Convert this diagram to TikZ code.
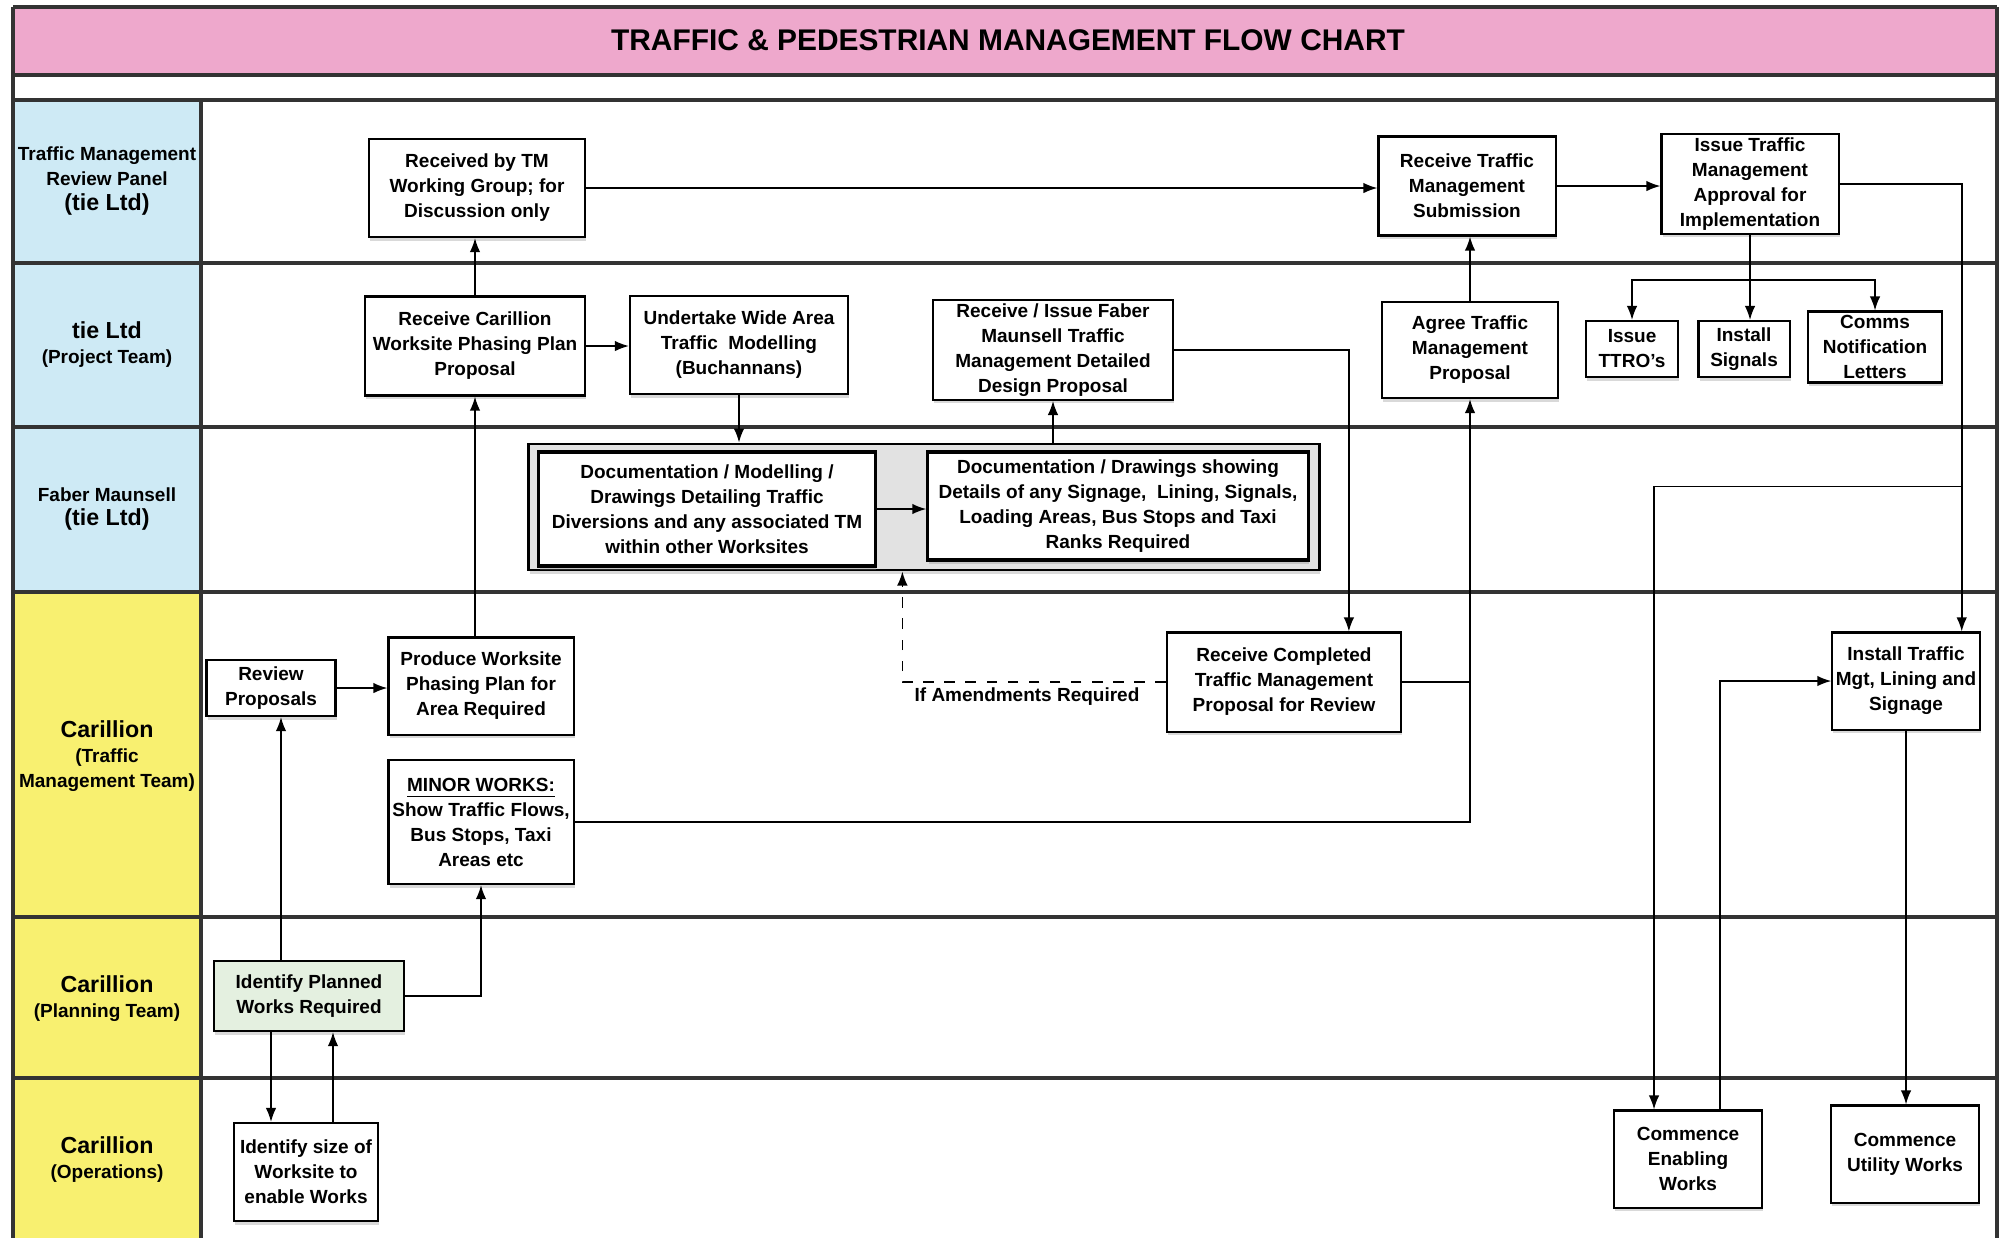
\documentclass[tikz,border=0pt]{standalone}
\usepackage{fontspec}
\setmainfont{Liberation Sans}
\usetikzlibrary{calc, arrows.meta, shadows}

\definecolor{titlepink}{RGB}{238,168,204}
\definecolor{laneblue}{RGB}{206,234,245}
\definecolor{laneyellow}{RGB}{248,240,112}
\definecolor{plangreen}{RGB}{228,240,224}
\definecolor{framegrey}{RGB}{226,226,226}

\newcommand{\boxfont}{\bfseries\fontsize{5.4}{7.1}\selectfont}
\newcommand{\bigfont}{\bfseries\fontsize{6.6}{8}\selectfont}

\begin{document}
\begin{tikzpicture}[x=0.01cm, y=-0.01cm,
        box/.style={draw, fill=white, line width=0.6pt, align=center, inner sep=1pt, font=\boxfont,
            drop shadow={shadow xshift=0.3pt, shadow yshift=-1pt, opacity=0.3}},
        lanehead/.style={align=center, font=\boxfont},
        laneline/.style={line width=1.3pt, draw=black!80},
        flow/.style={line width=0.45pt, arrows={-Latex[length=4pt, width=3pt]}}]
        \useasboundingbox (0, 0) rectangle (2010, 1238);
        \fill [titlepink] (13, 7) rectangle (1997, 75);
        \fill [laneblue] (13, 100) rectangle (201, 592);
        \fill [laneyellow] (13, 592) rectangle (201, 1238);
        \foreach \y in {7, 75, 100, 263, 427, 592, 917, 1078}
            \draw [laneline] (13, \y) -- (1997, \y);
        \draw [laneline] (13, 7) -- (13, 1238);
        \draw [laneline] (1997, 7) -- (1997, 1238);
        \draw [laneline] (201, 100) -- (201, 1238);
        \node [font=\bfseries\fontsize{8.5}{10}\selectfont] (title) at (1008, 40) {TRAFFIC \& PEDESTRIAN MANAGEMENT FLOW CHART};

        \node [lanehead] (tmpanel) at (107, 181) {Traffic Management\\Review Panel\\{\bigfont (tie Ltd)}};
        \node [lanehead] (tieteam) at (107, 345) {{\bigfont tie Ltd}\\(Project Team)};
        \node [lanehead] (faber) at (107, 509) {Faber Maunsell\\{\bigfont (tie Ltd)}};
        \node [lanehead] (tmteam) at (107, 756) {{\bigfont Carillion}\\(Traffic\\Management Team)};
        \node [lanehead] (planteam) at (107, 999) {{\bigfont Carillion}\\(Planning Team)};
        \node [lanehead] (operations) at (107, 1160) {{\bigfont Carillion}\\(Operations)};

        \node [box, minimum width=2.16cm, minimum height=0.98cm] (recv) at (477, 188) {Received by TM\\Working Group; for\\Discussion only};
        \node [box, minimum width=1.77cm, minimum height=0.99cm] (recvsub) at (1467, 186) {Receive Traffic\\Management\\Submission};
        \node [box, minimum width=1.77cm, minimum height=0.98cm] (approval) at (1750, 184) {Issue Traffic\\Management\\Approval for\\Implementation};
        \node [box, minimum width=2.2cm, minimum height=0.99cm] (phasing) at (475, 346) {Receive Carillion\\Worksite Phasing Plan\\Proposal};
        \node [box, minimum width=2.18cm, minimum height=0.98cm] (modelling) at (739, 345) {Undertake Wide Area\\Traffic\ \ Modelling\\(Buchannans)};
        \node [box, minimum width=2.4cm, minimum height=0.96cm] (design) at (1053, 350) {Receive / Issue Faber\\Maunsell Traffic\\Management Detailed\\Design Proposal};
        \node [box, minimum width=1.76cm, minimum height=0.96cm] (agree) at (1470, 350) {Agree Traffic\\Management\\Proposal};
        \node [box, minimum width=0.92cm, minimum height=0.56cm] (ttro) at (1632, 349) {Issue\\TTRO's};
        \node [box, minimum width=0.91cm, minimum height=0.56cm] (signals) at (1744, 349) {Install\\Signals};
        \node [box, minimum width=1.34cm, minimum height=0.71cm] (comms) at (1875, 347) {Comms\\Notification\\Letters};

        \node [draw, fill=framegrey, line width=0.8pt, minimum width=7.9cm, minimum height=1.26cm,
            drop shadow={shadow xshift=0.3pt, shadow yshift=-1pt, opacity=0.3}] (docframe) at (924, 507) {};
        \node [box, line width=0.9pt, minimum width=3.36cm, minimum height=1.14cm] (docs1) at (707, 509) {Documentation / Modelling /\\Drawings Detailing Traffic\\Diversions and any associated TM\\within other Worksites};
        \node [box, line width=0.9pt, minimum width=3.8cm, minimum height=1.08cm] (docs2) at (1118, 506) {Documentation / Drawings showing\\Details of any Signage,\ \ Lining, Signals,\\Loading Areas, Bus Stops and Taxi\\Ranks Required};

        \node [box, minimum width=1.29cm, minimum height=0.56cm] (review) at (271, 688) {Review\\Proposals};
        \node [box, minimum width=1.85cm, minimum height=0.97cm] (produce) at (481, 686) {Produce Worksite\\Phasing Plan for\\Area Required};
        \node [box, minimum width=1.85cm, minimum height=1.24cm] (minor) at (481, 822) {\underline{MINOR WORKS:}\\Show Traffic Flows,\\Bus Stops, Taxi\\Areas etc};
        \node [box, minimum width=2.34cm, minimum height=0.99cm] (completed) at (1284, 682) {Receive Completed\\Traffic Management\\Proposal for Review};
        \node [box, minimum width=1.46cm, minimum height=0.97cm] (install) at (1906, 681) {Install Traffic\\Mgt, Lining and\\Signage};
        \node [font=\boxfont] (amendlabel) at (1027, 697) {If Amendments Required};

        \node [box, fill=plangreen, minimum width=1.9cm, minimum height=0.7cm] (planned) at (309, 996) {Identify Planned\\Works Required};
        \node [box, minimum width=1.44cm, minimum height=0.98cm] (size) at (306, 1172) {Identify size of\\Worksite to\\enable Works};
        \node [box, minimum width=1.48cm, minimum height=0.97cm] (enabling) at (1688, 1159) {Commence\\Enabling\\Works};
        \node [box, minimum width=1.48cm, minimum height=0.97cm] (utility) at (1905, 1154) {Commence\\Utility Works};

        \coordinate (completedin) at ($(completed.north west)+(183, 0)$);
        \coordinate (amendup) at ($(docframe.south west)+(375, 0)$);
        \coordinate (installin) at ($(install.north east)+(-19, 0)$);
        \coordinate (issuesplit) at ($(approval.south)+(0, 45)$);
        \coordinate (enablejoin) at ($(installin)+(0, -145)$);
        \coordinate (enablein) at ($(enabling.north)+(-34, 0)$);
        \coordinate (enableout) at ($(enabling.north)+(32, 0)$);
        \coordinate (plannedup) at ($(planned.north)+(-28, 0)$);
        \coordinate (planneddown) at ($(planned.south)+(-38, 0)$);
        \coordinate (sizeup) at ($(size.north)+(27, 0)$);

        \draw [flow] (phasing.north) -- (phasing.north |- recv.south);
        \draw [flow] (phasing.south |- produce.north) -- (phasing.south);
        \draw [flow] (recv.east) -- (recv.east -| recvsub.west);
        \draw [flow] (recvsub.east) -- (recvsub.east -| approval.west);
        \draw [flow] (phasing.east) -- (phasing.east -| modelling.west);
        \draw [flow] (modelling.south) -- (modelling.south |- docframe.north);
        \draw [flow] (design.south |- docframe.north) -- (design.south);
        \draw [flow] (docs1.east) -- (docs1.east -| docs2.west);
        \draw [flow] (design.east) -| (completedin);
        \draw [flow, dashed] (completed.west) -| (amendup);
        \draw [line width=0.45pt] (completed.east) -- (completed.east -| agree.south);
        \draw [flow] (minor.east) -| (agree.south);
        \draw [flow] (agree.north) -- (agree.north |- recvsub.south);
        \draw [flow] (approval.east) -| (installin);
        \draw [flow] (approval.south) -- (approval.south |- signals.north);
        \draw [flow] (issuesplit) -| (ttro.north);
        \draw [flow] (issuesplit) -| (comms.north);
        \draw [flow] (enablejoin) -| (enablein);
        \draw [flow] (enableout) |- (install.west);
        \draw [flow] (install.south) -- (install.south |- utility.north);
        \draw [flow] (review.east) -- (review.east -| produce.west);
        \draw [flow] (plannedup) -- (plannedup |- review.south);
        \draw [flow] (planned.east) -| (minor.south);
        \draw [flow] (planneddown) -- (planneddown |- size.north);
        \draw [flow] (sizeup) -- (sizeup |- planned.south);
\end{tikzpicture}
\end{document}
